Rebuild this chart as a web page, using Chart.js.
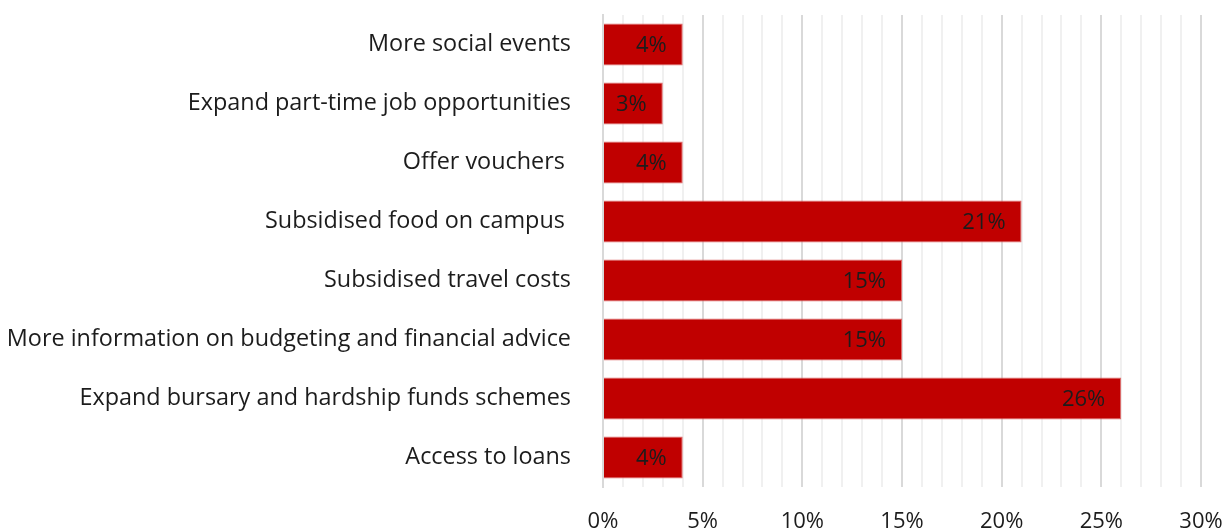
<!DOCTYPE html>
<html>
<head>
<meta charset="utf-8">
<script src="https://cdn.jsdelivr.net/npm/chart.js@4/dist/chart.umd.min.js"></script>
<style>
  html, body { margin: 0; padding: 0; background: #fff; }
  #wrap { width: 1232px; height: 531px; position: relative; }
</style>
</head>
<body>
<div id="wrap"><canvas id="c"></canvas></div>
<script>
const categories = [
  'More social events',
  'Expand part-time job opportunities',
  'Offer vouchers ',
  'Subsidised food on campus ',
  'Subsidised travel costs',
  'More information on budgeting and financial advice',
  'Expand bursary and hardship funds schemes',
  'Access to loans'
];
const shares = [4, 3, 4, 21, 15, 15, 26, 4];
const axisMax = 30;
const majorStep = 5;

const FONT = '"Open Sans", "Noto Sans", sans-serif';
const TEXT = '#1c1c1c';

// Percent labels drawn inside the right end of every bar
const barValueLabels = {
  id: 'barValueLabels',
  afterDatasetsDraw(chart) {
    const ctx = chart.ctx;
    const meta = chart.getDatasetMeta(0);
    ctx.save();
    ctx.font = '22px ' + FONT;
    ctx.fillStyle = TEXT;
    ctx.textAlign = 'right';
    ctx.textBaseline = 'middle';
    meta.data.forEach((bar, i) => {
      ctx.fillText(shares[i] + '%', bar.x - 16, bar.y + 1);
    });
    ctx.restore();
  }
};

new Chart(document.getElementById('c'), {
  type: 'bar',
  data: {
    labels: categories,
    datasets: [{
      data: shares,
      backgroundColor: '#c00000',
      borderColor: '#e06c6c',
      borderWidth: 1,
      borderSkipped: 'start',
      barPercentage: 0.71,
      categoryPercentage: 1
    }]
  },
  options: {
    indexAxis: 'y',
    responsive: true,
    maintainAspectRatio: false,
    animation: false,
    layout: { padding: { top: 15, right: 31, left: 0, bottom: 0 } },
    plugins: { legend: { display: false }, tooltip: { enabled: false } },
    scales: {
      x: {
        min: 0,
        max: axisMax,
        ticks: {
          stepSize: 1,
          autoSkip: false,
          maxRotation: 0,
          padding: 22,
          color: TEXT,
          font: { family: FONT, size: 22 },
          callback: v => (v % majorStep === 0 ? v + '%' : '')
        },
        grid: {
          color: c => (c.tick && c.tick.value % majorStep === 0 ? '#d9d9d9' : '#f0f0f0'),
          lineWidth: 2,
          drawTicks: false
        },
        border: { display: false },
        afterFit: s => {
          s.height = 44;
          s.paddingLeft = 0;
          s.paddingRight = 0;
        }
      },
      y: {
        ticks: {
          padding: 32,
          color: TEXT,
          font: { family: FONT, size: 23.4 }
        },
        grid: { display: false, drawTicks: false },
        border: { display: true, color: '#d9d9d9', width: 2 },
        afterFit: s => {
          s.width = 603;
          s.paddingTop = 0;
          s.paddingBottom = 0;
        }
      }
    }
  },
  plugins: [barValueLabels]
});
</script>
</body>
</html>
